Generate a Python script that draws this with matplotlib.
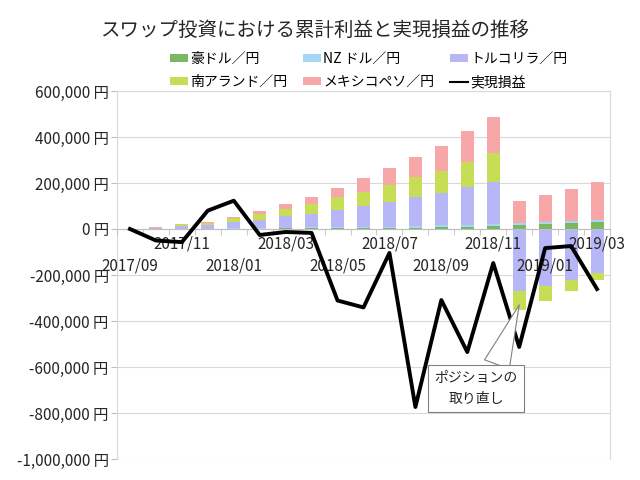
import numpy as np
import matplotlib
matplotlib.use("Agg")
from matplotlib import pyplot as plt
from matplotlib import ticker, transforms
from matplotlib.lines import Line2D
from matplotlib.patches import Patch

plt.rcParams["font.family"] = ["Noto Sans CJK JP", "DejaVu Sans"]

months = [
    "2017/09", "2017/10", "2017/11", "2017/12", "2018/01", "2018/02", "2018/03",
    "2018/04", "2018/05", "2018/06", "2018/07", "2018/08", "2018/09", "2018/10",
    "2018/11", "2018/12", "2019/01", "2019/02", "2019/03",
]
aud = [0, 0, 0, 1000, 2000, 2000, 3000, 3000, 4000, 4000, 4000, 5000, 8000, 8000,
       13000, 16000, 22000, 24000, 29000]
nzd = [0, 0, 0, 1000, 1000, 2000, 3000, 4000, 3000, 3000, 3000, 8000, 8000, 8000,
       9000, 10000, 8000, 12000, 11000]
tryen = [0, 5000, 11000, 15000, 27000, 36000, 49000, 60000, 77000, 94000, 112000,
         126000, 140000, 165000, 181000, -271000, -247000, -221000, -193000]
zar = [0, 1000, 9000, 10000, 20000, 25000, 33000, 42000, 53000, 61000, 71000,
       85000, 97000, 112000, 127000, -80000, -66000, -48000, -29000]
mxn = [0, 1000, 0, 3000, 3000, 15000, 22000, 32000, 43000, 58000, 75000, 91000,
       109000, 131000, 155000, 97000, 117000, 139000, 163000]
realized = [0, -50000, -57000, 80000, 123000, -26000, -13000, -17000, -311000,
            -341000, -104000, -774000, -309000, -535000, -148000, -513000,
            -83000, -74000, -261000]

series = [
    ("豪ドル／円", aud, "#7bb662"),
    ("NZ ドル／円", nzd, "#a6d8f5"),
    ("トルコリラ／円", tryen, "#b7b7f7"),
    ("南アランド／円", zar, "#c7dd56"),
    ("メキシコペソ／円", mxn, "#f7a7a7"),
]

fig = plt.figure(figsize=(6.4, 4.8), dpi=100)
ax = fig.add_axes([117 / 640, 21 / 480, 493 / 640, 368 / 480])

x = np.arange(len(months))
pos_base = np.zeros(len(months))
neg_base = np.zeros(len(months))
handles = {}
for name, vals, col in series:
    v = np.array(vals, dtype=float)
    base = np.where(v >= 0, pos_base, neg_base)
    ax.bar(x, v, 0.5, bottom=base, color=col, zorder=2)
    pos_base += np.where(v >= 0, v, 0)
    neg_base += np.where(v < 0, v, 0)
    handles[name] = Patch(facecolor=col)

ax.plot(x, realized, color="black", lw=2.8, zorder=3)
handles["実現損益"] = Line2D([], [], color="black", lw=1.5)

ax.set_xlim(-0.5, len(months) - 0.5)
ax.set_ylim(-1000000, 600000)
ax.yaxis.set_major_locator(ticker.MultipleLocator(200000))
ax.yaxis.set_major_formatter(ticker.FuncFormatter(lambda v, p: f"{v:,.0f} 円"))
ax.yaxis.grid(True, color="#d9d9d9", lw=0.8)
ax.set_axisbelow(True)
ax.xaxis.set_zorder(2.5)  # labels over bars, under the line

for s in ["left", "right", "top"]:
    ax.spines[s].set_color("#d9d9d9")
ax.spines["bottom"].set_position(("data", 0))
ax.spines["bottom"].set_color("#bfbfbf")

ax.set_xticks(x[::2], months[::2])
ax.set_xticks(np.arange(-0.5, len(months), 1), minor=True)
ax.tick_params(axis="x", which="major", length=0, pad=5, labelsize=11, labelcolor="#262626")
ax.tick_params(axis="x", which="minor", length=4, color="#bfbfbf")
ax.tick_params(axis="y", length=4, color="#bfbfbf", pad=2, labelsize=11, labelcolor="#262626")

# staggered category labels like Excel
offset = transforms.ScaledTranslation(0, -0.22, fig.dpi_scale_trans)
for i, lab in enumerate(ax.get_xticklabels()):
    if i % 2 == 0:
        lab.set_transform(lab.get_transform() + offset)

ax.annotate(
    "ポジションの\n取り直し",
    xy=(15, -330000),
    xytext=(13.34, -693000),
    ha="center",
    va="center",
    fontsize=10,
    linespacing=1.6,
    color="#262626",
    bbox=dict(boxstyle="square,pad=0.45", fc="white", ec="#808080", lw=0.8),
    arrowprops=dict(
        arrowstyle="wedge,tail_width=1.9,shrink_factor=0.5",
        fc="white",
        ec="#808080",
        lw=0.8,
        relpos=(0.72, 1.0),
        shrinkA=0,
        shrinkB=0,
    ),
    zorder=5,
)

fig.text(315 / 640, 1 - 30 / 480, "スワップ投資における累計利益と実現損益の推移",
         ha="center", va="center", fontsize=14, color="#262626")

order = ["豪ドル／円", "南アランド／円", "NZ ドル／円", "メキシコペソ／円", "トルコリラ／円", "実現損益"]
fig.legend(
    [handles[k] for k in order],
    order,
    ncol=3,
    loc="upper left",
    bbox_to_anchor=(170 / 640, 1 - 52 / 480),
    frameon=False,
    fontsize=10,
    handlelength=1.3,
    handleheight=0.5,
    handletextpad=0.15,
    columnspacing=1.15,
    labelspacing=0.65,
    borderpad=0,
    borderaxespad=0,
)

fig.savefig("out.png", dpi=100)
